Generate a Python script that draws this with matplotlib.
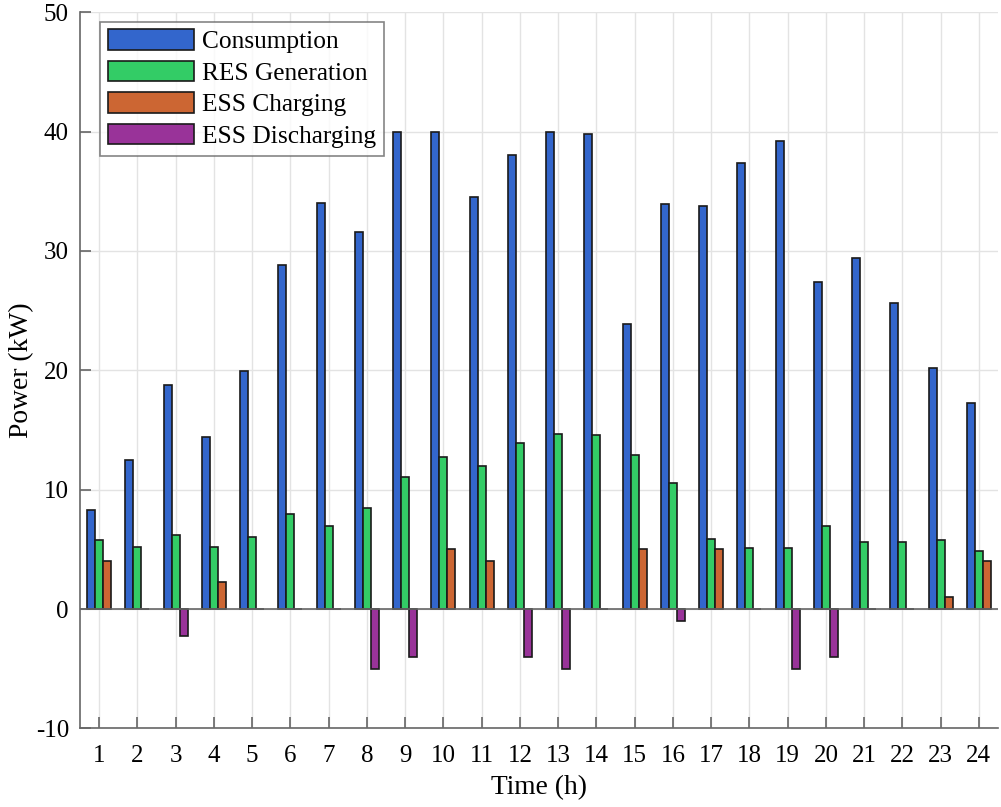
import numpy as np
import matplotlib
matplotlib.use("Agg")
import matplotlib.pyplot as plt

hours = list(range(1, 25))
consumption = [8.3, 12.5, 18.8, 14.4, 19.9, 28.8, 34.0, 31.6, 40.0, 40.0, 34.5, 38.0,
               40.0, 39.8, 23.9, 33.9, 33.8, 37.4, 39.2, 27.4, 29.4, 25.6, 20.2, 17.3]
res_generation = [5.8, 5.2, 6.2, 5.2, 6.0, 7.95, 7.0, 8.5, 11.1, 12.7, 12.0, 13.9,
                  14.7, 14.6, 12.9, 10.6, 5.9, 5.1, 5.1, 7.0, 5.6, 5.65, 5.75, 4.9]
ess_charging = [4.0, 0, 0, 2.3, 0, 0, 0, 0, 0, 5.0, 4.0, 0,
                0, 0, 5.0, 0, 5.0, 0, 0, 0, 0, 0, 1.0, 4.0]
ess_discharging = [0, 0, -2.25, 0, 0, 0, 0, -5.0, -4.0, 0, 0, -4.0,
                   -5.0, 0, 0, -1.0, 0, 0, -5.0, -4.0, 0, 0, 0, 0]

plt.rcParams['font.family'] = ['Liberation Serif', 'DejaVu Serif']
plt.rcParams['font.size'] = 18
plt.rcParams['axes.unicode_minus'] = False

fig = plt.figure(figsize=(10.01, 8.07), dpi=100)
ax = fig.add_axes([0.08, 0.0973, 0.917, 0.8877])

x = np.array(hours, dtype=float)
w = 0.21
ec = '#1a1a1a'
lw = 1.2
ax.bar(x - w, consumption, w, color='#3366CC', edgecolor=ec, linewidth=lw, label='Consumption', zorder=3)
ax.bar(x, res_generation, w, color='#33CC66', edgecolor=ec, linewidth=lw, label='RES Generation', zorder=3)
ax.bar(x + w, ess_charging, w, color='#CC6633', edgecolor=ec, linewidth=lw, label='ESS Charging', zorder=3)
dis = np.array(ess_discharging)
mask = dis < 0
ax.bar(x[mask] + w, dis[mask], w, color='#993399', edgecolor=ec, linewidth=lw, label='ESS Discharging', zorder=3)

ax.axhline(0, color='#666666', linewidth=1.2, zorder=4)

ax.set_xlim(0.5, 24.5)
ax.set_ylim(-10, 50)
ax.set_xticks(hours)
ax.set_yticks(range(-10, 51, 10))
ax.grid(True, color='#e3e3e3', linewidth=1.0, zorder=0)
ax.set_axisbelow(True)

for s in ['top', 'right']:
    ax.spines[s].set_visible(False)
for s in ['left', 'bottom']:
    ax.spines[s].set_color('#666666')
    ax.spines[s].set_linewidth(1.2)
ax.tick_params(direction='in', length=8, width=1.2, color='#666666', labelsize=18)
ax.tick_params(axis='x', pad=12)
ax.tick_params(axis='y', pad=8)

ax.set_xlabel('Time (h)', fontsize=19.8, labelpad=6)
ax.set_ylabel('Power (kW)', fontsize=19.8, labelpad=1)

leg = ax.legend(loc='upper left', bbox_to_anchor=(0.0218, 0.9866), frameon=True, fancybox=False,
                handlelength=3.4, handleheight=0.85, handletextpad=0.3, labelspacing=0.3,
                borderpad=0.3, borderaxespad=0.0, fontsize=18.3)
leg.get_frame().set_edgecolor('#666666')
leg.get_frame().set_linewidth(1.2)

fig.savefig('out.png', dpi=100)
